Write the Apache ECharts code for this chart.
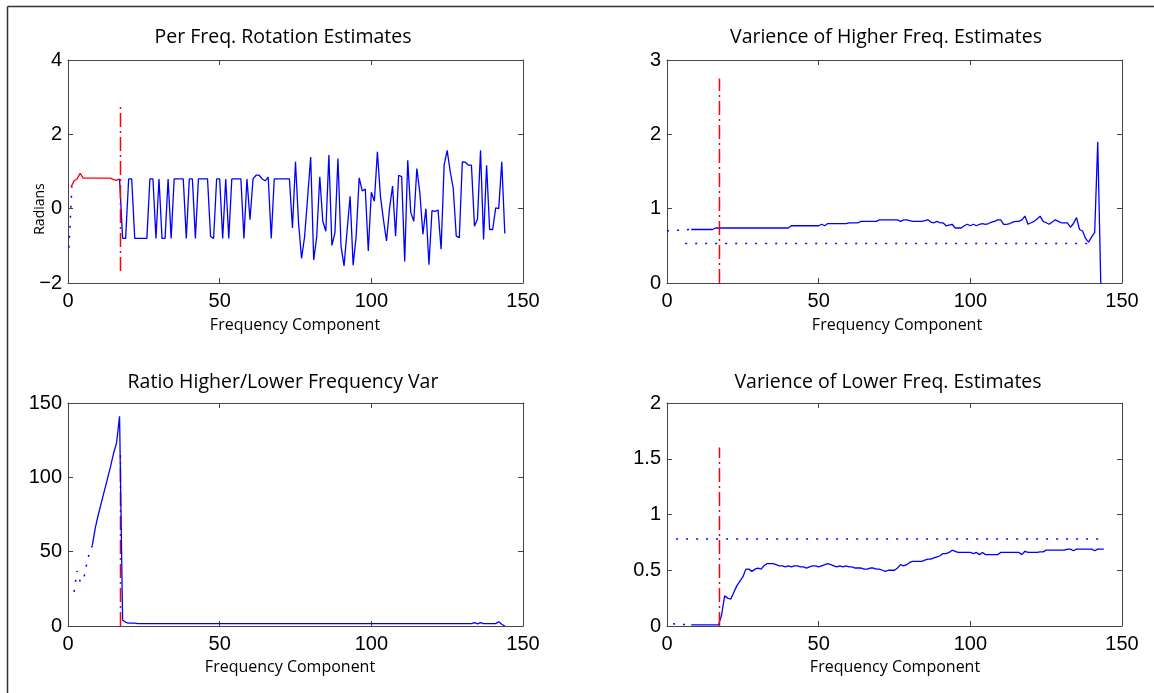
<!DOCTYPE html>
<html><head><meta charset="utf-8">
<script src="https://cdn.jsdelivr.net/npm/echarts@6/dist/echarts.min.js"></script>
<style>html,body{margin:0;padding:0;background:#fff}#c{width:1154px;height:693px}</style>
</head><body><div id="c"></div>
<script>
// ---------- data ----------
const titles = ['Per Freq. Rotation Estimates', 'Varience of Higher Freq. Estimates', 'Ratio Higher/Lower Frequency Var', 'Varience of Lower Freq. Estimates'];
const xName = 'Frequency Component';
const yNameRot = 'Radians';
const cutoff = 17.3;

// Panel 1: per frequency rotation estimates
const rotLeadX = [0.3, 1.3];
const rotLeadY = [-1.05, 0.6];
const rotRedStart = 1;
const rotRed = [0.58, 0.75, 0.80, 0.95, 0.82, 0.82, 0.82, 0.82, 0.82, 0.82, 0.82, 0.82, 0.82, 0.82, 0.78, 0.76, 0.80];
const rotBlueStart = 17;
const rotBlue = [0.8,-0.8,-0.8,0.8,0.8,-0.8,-0.8,-0.8,-0.8,-0.8,
 0.8,0.8,-0.8,0.8,-0.8,-0.8,0.8,-0.8,0.8,0.8,
 0.8,0.8,-0.8,0.8,0.8,-0.8,0.8,0.8,0.8,0.8,
 -0.75,-0.8,0.8,0.8,-0.8,0.8,-0.8,0.8,0.8,0.8,
 0.8,-0.8,0.8,-0.3,0.8,0.9,0.9,0.8,0.75,0.85,
 -0.8,0.8,0.8,0.8,0.8,0.8,0.8,
 -0.52,1.26,-0.38,-1.34,-0.75,0.3,1.39,-1.38,-0.75,0.86,
 -0.34,-0.61,1.44,-0.99,-0.65,1.35,-1.0,-1.54,-0.6,0.33,
 -1.52,-0.74,0.83,0.48,0.53,-1.14,0.44,0.2,1.53,0.33,
 -0.3,-0.87,0.0,0.61,-0.74,0.9,0.86,-1.42,1.3,-0.1,
 -0.34,1.08,0.42,-0.69,0.0,-1.51,-0.05,-0.07,-0.04,-1.09,
 1.17,1.57,1.0,0.55,-0.74,-0.78,1.26,1.25,1.17,1.17,
 -0.47,-0.28,1.57,-0.83,1.17,-0.56,-0.56,0.02,0.0,1.26,
 -0.67];
const rotCutY = [-1.68, 2.83];

// Panel 2: variance of higher freq. estimates
const hiLeadX = [0, 8];
const hiLeadY = [0.70, 0.72];
const hiStart = 8;
const hiVar = [0.72,0.72,0.72,0.72,0.72,0.72,0.72,0.72,
 0.74,0.74,0.74,0.74,0.74,0.74,0.74,0.74,0.74,0.74,0.74,0.74,0.74,0.74,0.74,0.74,0.74,0.74,0.74,0.74,0.74,0.74,0.74,0.74,0.74,
 0.77,0.77,0.77,0.77,0.77,0.77,0.77,0.77,0.77,0.77,
 0.79,0.77,
 0.80,0.80,0.80,0.80,0.80,0.80,0.80,
 0.81,0.81,0.81,0.81,
 0.83,0.83,0.83,0.83,0.83,0.83,
 0.85,0.85,0.85,0.85,0.85,0.85,0.85,
 0.83,0.85,0.85,0.84,0.83,0.83,0.83,0.83,0.84,0.85,
 0.82,0.81,0.83,0.81,0.81,0.77,0.78,0.79,0.74,0.74,
 0.74,0.77,0.79,0.77,0.79,0.77,0.79,0.80,0.79,0.80,
 0.82,0.83,0.85,0.85,0.79,0.79,0.80,0.82,0.83,0.83,
 0.85,0.90,0.79,0.81,0.83,0.86,0.90,0.83,0.81,0.79,
 0.82,0.85,0.83,0.81,0.81,0.81,0.75,0.80,0.88,0.72,
 0.70,0.60,0.55,0.62,0.68,1.90,0.0];
const hiThrX = [6, 141];
const hiThr = 0.53;
const hiCutY = [0, 2.75];

// Panel 3: ratio higher / lower frequency variance
const ratioLeadStart = 2;
const ratioLead = [23, 37, 30, 30, 40, 49, 54];
const ratioStart = 8;
const ratio = [54,66,75,83,91,99,107,116,123,141,
 4,2.5,2,2,2,1.6,
 1.6,1.6,1.6,1.6,1.6,1.6,1.6,1.6,1.6,1.6,1.6,1.6,1.6,1.6,1.6,1.6,1.6,1.6,1.6,1.6,
 1.6,1.6,1.6,1.6,1.6,1.6,1.6,1.6,1.6,1.6,1.6,1.6,1.6,1.6,1.6,1.6,1.6,1.6,1.6,1.6,
 1.6,1.6,1.6,1.6,1.6,1.6,1.6,1.6,1.6,1.6,1.6,1.6,1.6,1.6,1.6,1.6,1.6,1.6,1.6,1.6,
 1.6,1.6,1.6,1.6,1.6,1.6,1.6,1.6,1.6,1.6,1.6,1.6,1.6,1.6,1.6,1.6,1.6,1.6,1.6,1.6,
 1.6,1.6,1.6,1.6,1.6,1.6,1.6,1.6,1.6,1.6,1.6,1.6,1.6,1.6,1.6,1.6,1.6,1.6,1.6,1.6,
 1.6,1.6,1.6,1.6,1.6,1.6,1.6,1.6,1.6,1.6,
 2.2,1.4,2.2,1.6,1.6,1.6,1.6,1.6,2.9,1.2,0];
const ratioCutY = [0, 115];

// Panel 4: variance of lower freq. estimates
const loLeadX = [2, 8];
const loLeadY = [0.02, 0.01];
const loStart = 8;
const loVar = [0.01,0.01,0.01,0.01,0.01,0.01,0.01,0.01,0.01,0.01,
 0.10,0.27,0.25,0.24,0.30,0.36,0.40,0.44,0.51,0.51,
 0.49,0.51,0.52,0.51,0.54,0.56,0.56,0.56,0.55,0.54,
 0.54,0.53,0.54,0.53,0.54,0.54,0.53,0.53,0.52,0.53,
 0.54,0.54,0.53,0.54,0.55,0.56,0.55,0.54,0.53,0.54,
 0.53,0.54,0.53,0.53,0.52,0.52,0.52,0.51,0.51,0.52,
 0.52,0.51,0.51,0.50,0.49,0.50,0.50,0.50,0.52,0.55,
 0.54,0.55,0.57,0.58,0.58,0.58,0.58,0.59,0.60,0.60,
 0.61,0.62,0.63,0.65,0.65,0.66,0.68,0.67,0.66,0.66,
 0.66,0.66,0.66,0.65,0.66,0.64,0.66,0.64,0.64,0.64,
 0.64,0.64,0.66,0.66,0.66,0.66,0.66,0.66,0.66,0.64,
 0.67,0.66,0.66,0.66,0.66,0.665,0.665,0.68,0.68,0.68,
 0.68,0.68,0.68,0.68,0.69,0.69,0.675,0.69,0.69,0.69,
 0.69,0.69,0.69,0.675,0.69,0.69,0.69];
const loThrX = [3, 144];
const loThr = 0.78;
const loCutY = [0, 1.6];

// axis ranges: [min, max, interval]
const xRange = [0, 150, 50];
const yRanges = [[-2, 4, 2], [0, 3, 1], [0, 150, 50], [0, 2, 0.5]];

// ---------- helpers ----------
const seq = (start, vals) => vals.map((v, i) => [start + i, v]);
const zip = (xs, ys) => xs.map((x, i) => [x, ys[i]]);

const grids = [
  {left: 68, top: 60, width: 455, height: 223},
  {left: 667, top: 60, width: 455, height: 223},
  {left: 68, top: 403, width: 455, height: 223},
  {left: 667, top: 403, width: 455, height: 223}
];
const AX = '#444';
const LBLBASE = {fontSize: 20, color: '#000', fontFamily: '"Liberation Sans", Arial, sans-serif', showMinLabel: true, showMaxLabel: true};
const xAxes = [], yAxes = [];
grids.forEach((g, i) => {
  xAxes.push({type: 'value', gridIndex: i, position: 'bottom', min: xRange[0], max: xRange[1], interval: xRange[2],
    axisLine: {show: true, onZero: false, lineStyle: {color: AX, width: 1}},
    axisTick: {show: true, inside: true, length: 5, lineStyle: {color: AX}},
    axisLabel: Object.assign({}, LBLBASE, {margin: 8}), splitLine: {show: false}});
  xAxes.push({type: 'value', gridIndex: i, position: 'top', min: xRange[0], max: xRange[1], interval: xRange[2],
    axisLine: {show: true, onZero: false, lineStyle: {color: AX, width: 1}},
    axisTick: {show: true, inside: true, length: 5, lineStyle: {color: AX}},
    axisLabel: {show: false}, splitLine: {show: false}});
  const r = yRanges[i];
  yAxes.push({type: 'value', gridIndex: i, position: 'left', min: r[0], max: r[1], interval: r[2],
    axisLine: {show: true, onZero: false, lineStyle: {color: AX, width: 1}},
    axisTick: {show: true, inside: true, length: 5, lineStyle: {color: AX}},
    axisLabel: Object.assign({}, LBLBASE, {margin: 6, formatter: v => String(v).replace('-', '\u2212')}), splitLine: {show: false}});
  yAxes.push({type: 'value', gridIndex: i, position: 'right', min: r[0], max: r[1], interval: r[2],
    axisLine: {show: true, onZero: false, lineStyle: {color: AX, width: 1}},
    axisTick: {show: true, inside: true, length: 5, lineStyle: {color: AX}},
    axisLabel: {show: false}, splitLine: {show: false}});
});

const BLUE = '#0000ff', RED = '#ff0000';
const line = (gi, data, color, type, width) => ({
  type: 'line', xAxisIndex: gi * 2, yAxisIndex: gi * 2, data: data, symbol: 'none', silent: true,
  lineStyle: {color: color, width: width || 1.3, type: type || 'solid', cap: 'butt'}, z: 3
});
const DOT = [2, 8];
const DASHDOT = [14, 4, 2, 4];

const series = [
  line(0, zip(rotLeadX, rotLeadY), BLUE, DOT, 1.5),
  line(0, seq(rotRedStart, rotRed), RED, 'solid', 1.3),
  line(0, seq(rotBlueStart, rotBlue), BLUE),
  line(0, zip([cutoff, cutoff], rotCutY), RED, DASHDOT, 1.5),

  line(1, zip(hiLeadX, hiLeadY), BLUE, DOT, 1.5),
  line(1, zip(hiThrX, [hiThr, hiThr]), BLUE, DOT, 1.5),
  line(1, seq(hiStart, hiVar), BLUE),
  line(1, zip([cutoff, cutoff], hiCutY), RED, DASHDOT, 1.5),

  line(2, seq(ratioLeadStart, ratioLead), BLUE, DOT, 1.5),
  line(2, zip([cutoff, cutoff], ratioCutY), RED, DASHDOT, 1.5),
  line(2, seq(ratioStart, ratio), BLUE),

  line(3, zip(loLeadX, loLeadY), BLUE, DOT, 1.5),
  line(3, zip(loThrX, [loThr, loThr]), BLUE, DOT, 1.5),
  line(3, seq(loStart, loVar), BLUE),
  line(3, zip([cutoff, cutoff], loCutY), RED, DASHDOT, 1.5)
];

const TF = '"Open Sans", Lato, sans-serif';
const txt = (t, x, y, size, rot) => ({
  type: 'text', x: x, y: y, rotation: rot || 0, silent: true,
  style: {text: t, x: 0, y: 0, font: size + 'px ' + TF, fill: '#000', align: 'center', verticalAlign: 'middle'}
});
const graphic = [
  {type: 'line', silent: true, shape: {x1: 7.5, y1: 6.5, x2: 1154, y2: 6.5}, style: {stroke: '#333', lineWidth: 1.5}},
  {type: 'line', silent: true, shape: {x1: 7.5, y1: 6.5, x2: 7.5, y2: 693}, style: {stroke: '#333', lineWidth: 1.5}},
  txt(titles[0], 283, 37, 19.5),
  txt(titles[1], 886, 37, 19.5),
  txt(titles[2], 283, 382, 19.5),
  txt(titles[3], 888, 382, 19.5),
  txt(xName, 295, 325, 16),
  txt(xName, 897, 325, 16),
  txt(xName, 290, 667, 16),
  txt(xName, 895, 667, 16),
  txt(yNameRot, 40, 209, 14, Math.PI / 2)
];

const chart = echarts.init(document.getElementById('c'), null, {renderer: 'canvas'});
chart.setOption({animation: false, backgroundColor: '#fff', grid: grids, xAxis: xAxes, yAxis: yAxes, series: series, graphic: graphic});
</script></body></html>
